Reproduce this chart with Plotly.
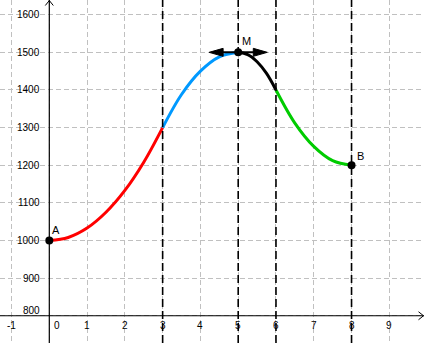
import plotly.graph_objects as go

# ---- data ----
red_x = [0, 0.5, 1, 1.5, 2, 2.5, 3]
red_y = [1000, 1008, 1033, 1075, 1133, 1208, 1300]
blue_x = [3, 3.5, 4, 4.5, 5]
blue_y = [1300, 1388, 1450, 1488, 1500]
black_x = [5, 5.25, 5.5, 5.75, 6]
black_y = [1500, 1494, 1475, 1444, 1400]
green_x = [6, 6.5, 7, 7.5, 8]
green_y = [1400, 1312, 1250, 1212, 1200]

point_names = ["A", "M", "B"]
point_x = [0, 5, 8]
point_y = [1000, 1500, 1200]

vline_x = [3, 5, 6, 8]
x_ticks = [-1, 0, 1, 2, 3, 4, 5, 6, 7, 8, 9]
y_ticks = [800, 900, 1000, 1100, 1200, 1300, 1400, 1500, 1600]

tangent_half = 0.77  # half-length of tangent arrow at M (x units)

# ---- layout geometry ----
W, H = 424, 343
X0, X1 = -1.305, 9.918
Y0, Y1 = 727.6, 1639.1
pxx = (X1 - X0) / W   # data units per pixel (x)
pxy = (Y1 - Y0) / H   # data units per pixel (y)
AXIS_Y = 800
AXIS_X = 0

font = dict(family="Liberation Sans, Arial, sans-serif", size=10, color="#000000")

fig = go.Figure()

shapes = []
# vertical dashed lines
for xv in vline_x:
    shapes.append(dict(type="line", xref="x", yref="paper", x0=xv, x1=xv, y0=0, y1=1,
                       line=dict(color="black", width=1.6, dash="8px,4px"), layer="above"))
# axes
shapes.append(dict(type="line", xref="paper", yref="y", x0=0, x1=1, y0=AXIS_Y, y1=AXIS_Y,
                   line=dict(color="black", width=1.2), layer="above"))
shapes.append(dict(type="line", xref="x", yref="paper", x0=AXIS_X, x1=AXIS_X, y0=0, y1=1,
                   line=dict(color="black", width=1.2), layer="above"))
# axis arrows (open chevrons)
tipx = X1 - 0.5 * pxx
shapes.append(dict(type="path", xref="x", yref="y",
                   path=f"M {tipx-5*pxx},{AXIS_Y+4*pxy} L {tipx},{AXIS_Y} L {tipx-5*pxx},{AXIS_Y-4*pxy}",
                   line=dict(color="black", width=1), layer="above"))
tipy = Y1 - 0.5 * pxy
shapes.append(dict(type="path", xref="x", yref="y",
                   path=f"M {AXIS_X-4*pxx},{tipy-5*pxy} L {AXIS_X},{tipy} L {AXIS_X+4*pxx},{tipy-5*pxy}",
                   line=dict(color="black", width=1), layer="above"))

fig.add_trace(go.Scatter(x=red_x, y=red_y, mode="lines", line=dict(color="#ff0000", width=3, shape="spline"), hoverinfo="skip"))
fig.add_trace(go.Scatter(x=blue_x, y=blue_y, mode="lines", line=dict(color="#0099ff", width=3, shape="spline"), hoverinfo="skip"))
fig.add_trace(go.Scatter(x=black_x, y=black_y, mode="lines", line=dict(color="#000000", width=3, shape="spline"), hoverinfo="skip"))
fig.add_trace(go.Scatter(x=green_x, y=green_y, mode="lines", line=dict(color="#00cc00", width=3, shape="spline"), hoverinfo="skip"))

# tangent at M with filled arrowheads
mx, my = point_x[1], point_y[1]
lt, rt = mx - tangent_half, mx + tangent_half
fig.add_trace(go.Scatter(x=[lt + 4 * pxx, rt - 4 * pxx], y=[my, my], mode="lines",
                         line=dict(color="black", width=2), hoverinfo="skip"))
hl, hw = 14 * pxx, 4 * pxy
shapes.append(dict(type="path", xref="x", yref="y",
                   path=f"M {lt},{my} L {lt+hl},{my+hw} L {lt+hl},{my-hw} Z",
                   fillcolor="black", line=dict(color="black", width=1), layer="above"))
shapes.append(dict(type="path", xref="x", yref="y",
                   path=f"M {rt},{my} L {rt-hl},{my+hw} L {rt-hl},{my-hw} Z",
                   fillcolor="black", line=dict(color="black", width=1), layer="above"))

fig.add_trace(go.Scatter(x=point_x, y=point_y, mode="markers",
                         marker=dict(color="black", size=8), hoverinfo="skip"))

annotations = []
label_shift = {"A": (7, 11), "M": (8, 11), "B": (9, 9)}
for n, xx, yy in zip(point_names, point_x, point_y):
    sx, sy = label_shift[n]
    annotations.append(dict(x=xx, y=yy, text=n, showarrow=False, xshift=sx, yshift=sy,
                            font=dict(family=font["family"], size=11, color="black")))
for xt in x_ticks:
    annotations.append(dict(x=xt, y=AXIS_Y, text=str(xt).replace("-", "-"), showarrow=False,
                            yshift=-10, xshift=(8 if xt == 0 else 0), font=font))
for yt in y_ticks:
    annotations.append(dict(x=AXIS_X, y=yt, text=str(yt), showarrow=False, xanchor="right",
                            xshift=-7, yshift=(5 if yt == AXIS_Y else 0), font=font))

fig.update_layout(
    width=W, height=H, margin=dict(l=0, r=0, t=0, b=0),
    paper_bgcolor="white", plot_bgcolor="white", showlegend=False,
    shapes=shapes, annotations=annotations,
    xaxis=dict(range=[X0, X1], dtick=1, tick0=0, showgrid=True, gridcolor="#c0c0c0",
               gridwidth=1, griddash="5px,3px", zeroline=False, showticklabels=False,
               showline=False, fixedrange=True),
    yaxis=dict(range=[Y0, Y1], dtick=100, tick0=0, showgrid=True, gridcolor="#c0c0c0",
               gridwidth=1, griddash="5px,3px", zeroline=False, showticklabels=False,
               showline=False, fixedrange=True),
)

fig.write_html("out.html", config=dict(displayModeBar=False))
